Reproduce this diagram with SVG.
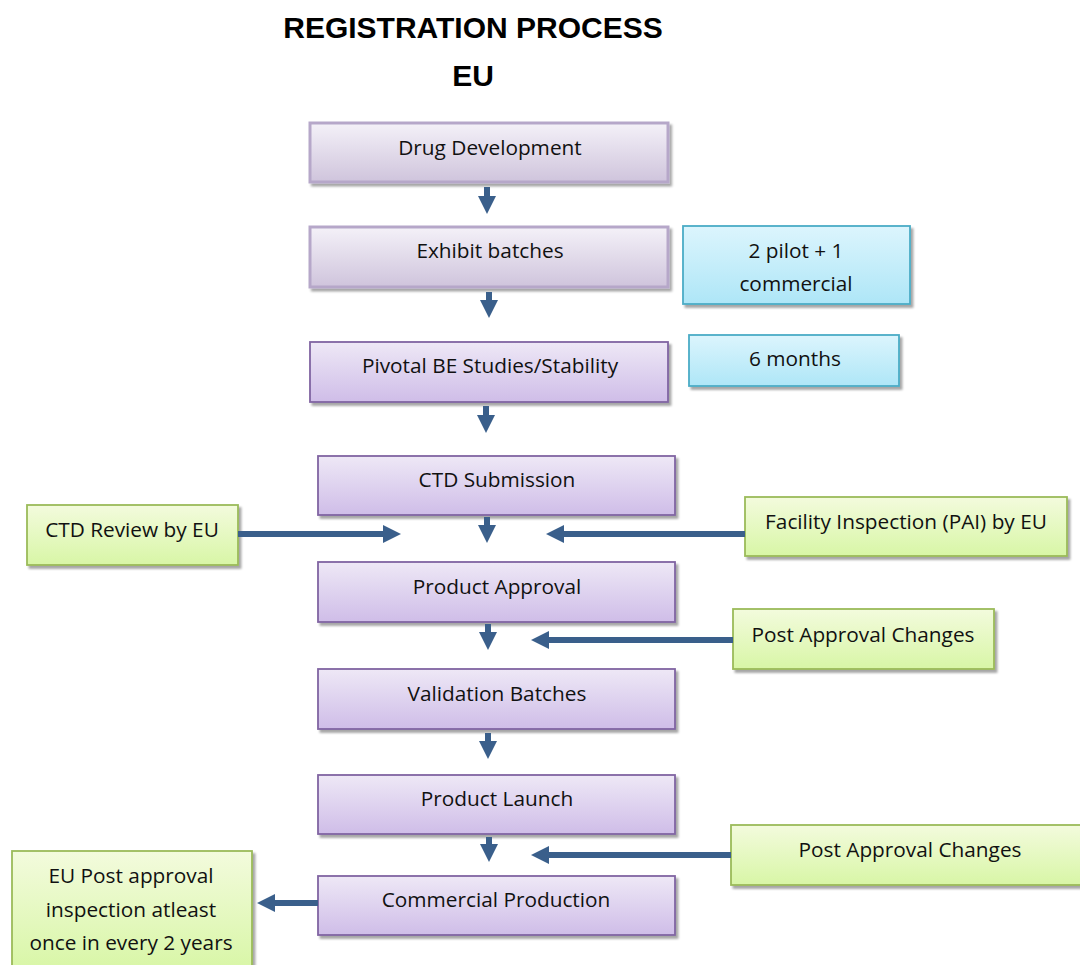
<svg xmlns="http://www.w3.org/2000/svg" width="1080" height="965" viewBox="0 0 1080 965">
  <defs>
    <linearGradient id="gPale" x1="0" y1="0" x2="0" y2="1">
      <stop offset="0" stop-color="#f4f1f8"/>
      <stop offset="1" stop-color="#cfc4dc"/>
    </linearGradient>
    <linearGradient id="gPurple" x1="0" y1="0" x2="0" y2="1">
      <stop offset="0" stop-color="#eee8f6"/>
      <stop offset="1" stop-color="#cfbde8"/>
    </linearGradient>
    <linearGradient id="gBlue" x1="0" y1="0" x2="0" y2="1">
      <stop offset="0" stop-color="#dcf5fd"/>
      <stop offset="1" stop-color="#aee6f7"/>
    </linearGradient>
    <linearGradient id="gGreen" x1="0" y1="0" x2="0" y2="1">
      <stop offset="0" stop-color="#f3fbdd"/>
      <stop offset="1" stop-color="#d8f6a6"/>
    </linearGradient>
    <filter id="shadow" x="-5%" y="-10%" width="115%" height="130%">
      <feDropShadow dx="2.5" dy="3" stdDeviation="1.2" flood-color="#000" flood-opacity="0.35"/>
    </filter>
    <marker id="head" viewBox="0 0 10 10" refX="5" refY="5" markerWidth="3" markerHeight="3" orient="auto" markerUnits="strokeWidth">
      <path d="M0,0 L10,5 L0,10 Z" fill="#3a5f8b"/>
    </marker>
  </defs>
  <style>
    .pale { fill: url(#gPale); stroke: #b6a7c9; stroke-width: 3; filter: url(#shadow); }
    .purple { fill: url(#gPurple); stroke: #8064a2; stroke-width: 1.8; filter: url(#shadow); }
    .blue { fill: url(#gBlue); stroke: #4bacc6; stroke-width: 1.8; filter: url(#shadow); }
    .green { fill: url(#gGreen); stroke: #9bbb59; stroke-width: 1.8; filter: url(#shadow); }
    .lbl { font-family: "Open Sans", "Liberation Sans", sans-serif; font-size: 20.8px; fill: #111; text-anchor: middle; }
    .title { font-family: "Liberation Sans", Arial, sans-serif; font-weight: bold; font-size: 30px; fill: #000; text-anchor: middle; }
    .conn line { stroke: #3a5f8b; stroke-width: 6; marker-end: url(#head); }
  </style>

  <text class="title" x="473" y="38">REGISTRATION PROCESS</text>
  <text class="title" x="473" y="86">EU</text>

  <!-- main process column -->
  <g id="drug-development">
    <rect class="pale" x="310" y="123" width="358" height="59"/>
    <text class="lbl" x="490" y="155">Drug Development</text>
  </g>
  <g id="exhibit-batches">
    <rect class="pale" x="310" y="227" width="358" height="60"/>
    <text class="lbl" x="490" y="258">Exhibit batches</text>
  </g>
  <g id="pivotal-be">
    <rect class="purple" x="310" y="342" width="358" height="60"/>
    <text class="lbl" x="490" y="373">Pivotal BE Studies/Stability</text>
  </g>
  <g id="ctd-submission">
    <rect class="purple" x="318" y="456" width="357" height="59"/>
    <text class="lbl" x="497" y="487">CTD Submission</text>
  </g>
  <g id="product-approval">
    <rect class="purple" x="318" y="562" width="357" height="60"/>
    <text class="lbl" x="497" y="594">Product Approval</text>
  </g>
  <g id="validation-batches">
    <rect class="purple" x="318" y="669" width="357" height="60"/>
    <text class="lbl" x="497" y="701">Validation Batches</text>
  </g>
  <g id="product-launch">
    <rect class="purple" x="318" y="775" width="357" height="59"/>
    <text class="lbl" x="497" y="806">Product Launch</text>
  </g>
  <g id="commercial-production">
    <rect class="purple" x="318" y="876" width="357" height="59"/>
    <text class="lbl" x="496" y="907">Commercial Production</text>
  </g>

  <!-- side notes -->
  <g id="pilot-commercial">
    <rect class="blue" x="683" y="226" width="227" height="78"/>
    <text class="lbl" x="796" y="258">2 pilot + 1</text>
    <text class="lbl" x="796" y="291">commercial</text>
  </g>
  <g id="six-months">
    <rect class="blue" x="689" y="335" width="210" height="51"/>
    <text class="lbl" x="795" y="366">6 months</text>
  </g>
  <g id="ctd-review">
    <rect class="green" x="27" y="505" width="211" height="60"/>
    <text class="lbl" x="132" y="537">CTD Review by EU</text>
  </g>
  <g id="facility-inspection">
    <rect class="green" x="745" y="497" width="322" height="59"/>
    <text class="lbl" x="906" y="529">Facility Inspection (PAI) by EU</text>
  </g>
  <g id="post-approval-1">
    <rect class="green" x="733" y="609" width="261" height="60"/>
    <text class="lbl" x="863" y="642">Post Approval Changes</text>
  </g>
  <g id="post-approval-2">
    <rect class="green" x="731" y="825" width="355" height="60"/>
    <text class="lbl" x="910" y="857">Post Approval Changes</text>
  </g>
  <g id="eu-post-approval">
    <rect class="green" x="12" y="851" width="240" height="120"/>
    <text class="lbl" x="131" y="883">EU Post approval</text>
    <text class="lbl" x="131" y="917">inspection atleast</text>
    <text class="lbl" x="131" y="950">once in every 2 years</text>
  </g>

  <!-- connectors -->
  <g id="connectors" class="conn">
    <line x1="487" y1="187" x2="487" y2="205"/>
    <line x1="489" y1="292" x2="489" y2="309"/>
    <line x1="486" y1="406" x2="486" y2="424"/>
    <line x1="487" y1="517" x2="487" y2="534"/>
    <line x1="488" y1="624" x2="488" y2="641"/>
    <line x1="488" y1="733" x2="488" y2="750"/>
    <line x1="489" y1="837" x2="489" y2="853"/>
    <line x1="238" y1="534" x2="392" y2="534"/>
    <line x1="745" y1="534" x2="555" y2="534"/>
    <line x1="733" y1="640" x2="540" y2="640"/>
    <line x1="731" y1="855" x2="540" y2="855"/>
    <line x1="318" y1="903" x2="266" y2="903"/>
  </g>
</svg>
